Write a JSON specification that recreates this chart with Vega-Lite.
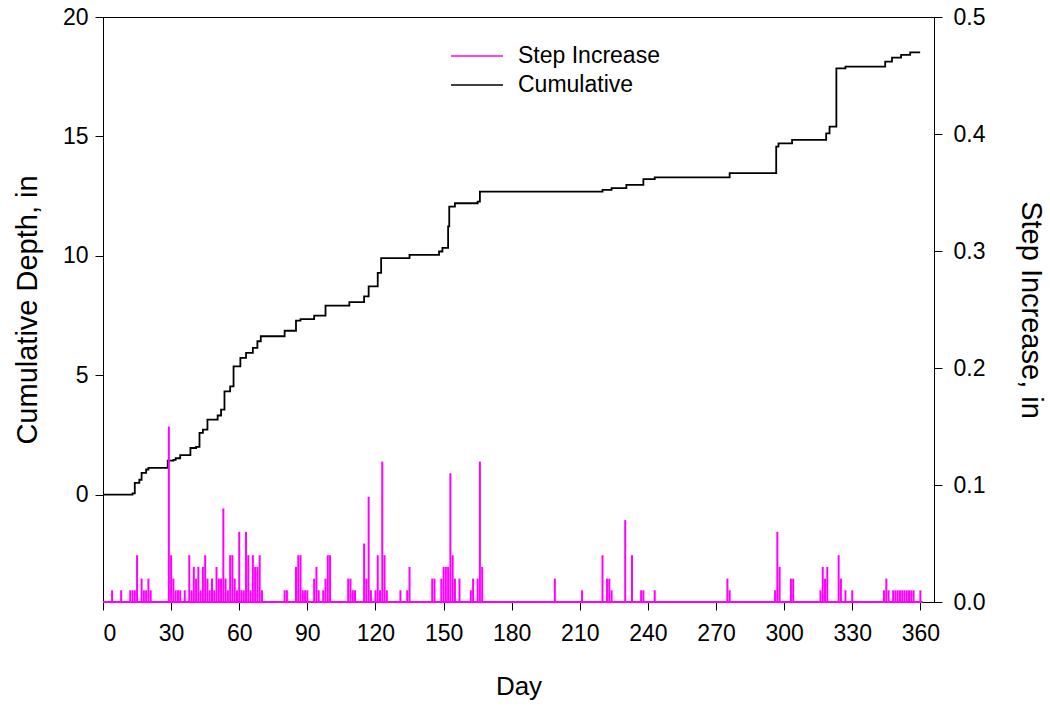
{
  "$schema": "https://vega.github.io/schema/vega-lite/v6.json",
  "width": 831,
  "height": 585,
  "autosize": {"type": "none"},
  "padding": {"left": 103, "top": 17, "right": 116, "bottom": 105},
  "background": "white",
  "config": {
    "font": "Liberation Sans",
    "view": {"stroke": "black", "strokeWidth": 1},
    "axis": {
      "domainColor": "black", "tickColor": "black", "labelColor": "black", "titleColor": "black",
      "labelFontSize": 23, "titleFontSize": 29, "titleFontWeight": "normal", "grid": false,
      "tickSize": 8, "labelFont": "Liberation Sans", "titleFont": "Liberation Sans",
      "domainWidth": 1, "tickWidth": 1
    },
    "legend": {"labelFont": "Liberation Sans"}
  },
  "datasets": {
    "cumulative": [
      {"day": 0, "depth": 0}, {"day": 13, "depth": 0.05}, {"day": 14, "depth": 0.49}, {"day": 16, "depth": 0.62},
      {"day": 17, "depth": 0.91}, {"day": 19, "depth": 1.05}, {"day": 20, "depth": 1.12}, {"day": 28.5, "depth": 1.42},
      {"day": 31, "depth": 1.45}, {"day": 32, "depth": 1.52}, {"day": 34, "depth": 1.65}, {"day": 38.5, "depth": 1.95},
      {"day": 41, "depth": 2.0}, {"day": 42.5, "depth": 2.58}, {"day": 44, "depth": 2.72}, {"day": 46, "depth": 3.14},
      {"day": 50.5, "depth": 3.31}, {"day": 52, "depth": 3.56}, {"day": 53.5, "depth": 4.32}, {"day": 56, "depth": 4.53},
      {"day": 57.5, "depth": 5.37}, {"day": 60.5, "depth": 5.72}, {"day": 63, "depth": 5.93}, {"day": 66, "depth": 6.14},
      {"day": 68, "depth": 6.42}, {"day": 69.5, "depth": 6.63}, {"day": 80, "depth": 6.86}, {"day": 85, "depth": 7.28},
      {"day": 87, "depth": 7.35}, {"day": 93, "depth": 7.49}, {"day": 98, "depth": 7.91}, {"day": 108.5, "depth": 8.06},
      {"day": 115, "depth": 8.3}, {"day": 117, "depth": 8.72}, {"day": 121, "depth": 9.28}, {"day": 122.5, "depth": 9.9},
      {"day": 135, "depth": 10.04}, {"day": 148, "depth": 10.18}, {"day": 149.5, "depth": 10.33}, {"day": 152, "depth": 11.23},
      {"day": 152.5, "depth": 12.06}, {"day": 155, "depth": 12.2}, {"day": 165, "depth": 12.27}, {"day": 166, "depth": 12.69},
      {"day": 220, "depth": 12.76}, {"day": 224, "depth": 12.83}, {"day": 230.5, "depth": 12.97}, {"day": 238, "depth": 13.21},
      {"day": 243, "depth": 13.28}, {"day": 276, "depth": 13.46}, {"day": 296.5, "depth": 14.57}, {"day": 297.5, "depth": 14.71},
      {"day": 303.5, "depth": 14.85}, {"day": 318.5, "depth": 15.13}, {"day": 320, "depth": 15.41}, {"day": 323, "depth": 17.85},
      {"day": 327, "depth": 17.92}, {"day": 344.5, "depth": 18.13}, {"day": 347.5, "depth": 18.3}, {"day": 351.5, "depth": 18.41},
      {"day": 355.5, "depth": 18.52}, {"day": 359.5, "depth": 18.55}
    ],
    "steps": [
      {"day": 4, "step": 0.01}, {"day": 8, "step": 0.01}, {"day": 12, "step": 0.01}, {"day": 13, "step": 0.01},
      {"day": 14, "step": 0.01}, {"day": 15, "step": 0.04}, {"day": 17, "step": 0.02}, {"day": 18, "step": 0.01},
      {"day": 19, "step": 0.01}, {"day": 20, "step": 0.02}, {"day": 21, "step": 0.01},
      {"day": 29, "step": 0.15}, {"day": 30, "step": 0.04}, {"day": 31, "step": 0.02}, {"day": 32, "step": 0.01},
      {"day": 33, "step": 0.01}, {"day": 34, "step": 0.01}, {"day": 36, "step": 0.01}, {"day": 38, "step": 0.04},
      {"day": 39, "step": 0.01}, {"day": 40, "step": 0.03}, {"day": 41, "step": 0.02}, {"day": 42, "step": 0.03},
      {"day": 43, "step": 0.01}, {"day": 44, "step": 0.03}, {"day": 45, "step": 0.04}, {"day": 46, "step": 0.02},
      {"day": 47, "step": 0.01}, {"day": 48, "step": 0.02}, {"day": 49, "step": 0.01}, {"day": 50, "step": 0.03},
      {"day": 51, "step": 0.02}, {"day": 52, "step": 0.02}, {"day": 53, "step": 0.08}, {"day": 54, "step": 0.02},
      {"day": 55, "step": 0.01}, {"day": 56, "step": 0.04}, {"day": 57, "step": 0.04}, {"day": 58, "step": 0.02},
      {"day": 59, "step": 0.01}, {"day": 60, "step": 0.06}, {"day": 61, "step": 0.01}, {"day": 62, "step": 0.01},
      {"day": 63, "step": 0.06}, {"day": 64, "step": 0.04}, {"day": 65, "step": 0.01}, {"day": 66, "step": 0.04},
      {"day": 67, "step": 0.03}, {"day": 68, "step": 0.03}, {"day": 69, "step": 0.04}, {"day": 70, "step": 0.01},
      {"day": 80, "step": 0.01}, {"day": 81, "step": 0.01}, {"day": 85, "step": 0.03}, {"day": 86, "step": 0.04},
      {"day": 87, "step": 0.04}, {"day": 88, "step": 0.01}, {"day": 89, "step": 0.01}, {"day": 90, "step": 0.01},
      {"day": 93, "step": 0.02}, {"day": 94, "step": 0.03}, {"day": 95, "step": 0.01}, {"day": 97, "step": 0.01},
      {"day": 98, "step": 0.02}, {"day": 99, "step": 0.04}, {"day": 100, "step": 0.04}, {"day": 108, "step": 0.02},
      {"day": 109, "step": 0.02}, {"day": 110, "step": 0.01}, {"day": 111, "step": 0.01}, {"day": 115, "step": 0.05},
      {"day": 116, "step": 0.02}, {"day": 117, "step": 0.09}, {"day": 118, "step": 0.01}, {"day": 120, "step": 0.01},
      {"day": 121, "step": 0.04}, {"day": 122, "step": 0.01}, {"day": 123, "step": 0.12}, {"day": 124, "step": 0.04},
      {"day": 125, "step": 0.01}, {"day": 131, "step": 0.01}, {"day": 134, "step": 0.01}, {"day": 135, "step": 0.03},
      {"day": 145, "step": 0.02}, {"day": 146, "step": 0.02}, {"day": 149, "step": 0.02}, {"day": 150, "step": 0.03},
      {"day": 151, "step": 0.03}, {"day": 152, "step": 0.03}, {"day": 153, "step": 0.11}, {"day": 154, "step": 0.04},
      {"day": 155, "step": 0.02}, {"day": 157, "step": 0.02}, {"day": 162, "step": 0.01}, {"day": 163, "step": 0.02},
      {"day": 165, "step": 0.02}, {"day": 166, "step": 0.12}, {"day": 167, "step": 0.03},
      {"day": 199, "step": 0.02}, {"day": 211, "step": 0.01}, {"day": 220, "step": 0.04}, {"day": 222, "step": 0.02},
      {"day": 223, "step": 0.02}, {"day": 224, "step": 0.01}, {"day": 230, "step": 0.07}, {"day": 233, "step": 0.04},
      {"day": 237, "step": 0.01}, {"day": 238, "step": 0.01}, {"day": 243, "step": 0.01}, {"day": 275, "step": 0.02},
      {"day": 276, "step": 0.01}, {"day": 296, "step": 0.01}, {"day": 297, "step": 0.06}, {"day": 298, "step": 0.03},
      {"day": 303, "step": 0.02}, {"day": 304, "step": 0.02}, {"day": 316, "step": 0.01}, {"day": 317, "step": 0.03},
      {"day": 318, "step": 0.02}, {"day": 319, "step": 0.03}, {"day": 324, "step": 0.04}, {"day": 325, "step": 0.02},
      {"day": 327, "step": 0.01}, {"day": 330, "step": 0.01}, {"day": 344, "step": 0.01}, {"day": 345, "step": 0.02},
      {"day": 346, "step": 0.01}, {"day": 348, "step": 0.01}, {"day": 349, "step": 0.01}, {"day": 350, "step": 0.01},
      {"day": 351, "step": 0.01}, {"day": 352, "step": 0.01}, {"day": 353, "step": 0.01}, {"day": 354, "step": 0.01},
      {"day": 355, "step": 0.01}, {"day": 356, "step": 0.01}, {"day": 357, "step": 0.01}, {"day": 360, "step": 0.01}
    ],
    "baseline": [{"start": 0, "end": 361}]
  },
  "layer": [
    {
      "data": {"name": "cumulative"},
      "mark": {"type": "line", "interpolate": "step-after", "strokeWidth": 1.8},
      "encoding": {
        "x": {
          "field": "day", "type": "quantitative", "title": "Day",
          "scale": {"domain": [0, 366], "nice": false, "zero": false},
          "axis": {"values": [0, 30, 60, 90, 120, 150, 180, 210, 240, 270, 300, 330, 360], "labelPadding": 12, "titlePadding": 28, "titleFontSize": 26}
        },
        "y": {
          "field": "depth", "type": "quantitative", "title": "Cumulative Depth, in",
          "scale": {"domain": [-4.5, 20], "nice": false, "zero": false},
          "axis": {"orient": "left", "values": [0, 5, 10, 15, 20], "labelPadding": 7, "titlePadding": 20}
        },
        "color": {
          "datum": "Cumulative", "type": "nominal",
          "scale": {"domain": ["Step Increase", "Cumulative"], "range": ["#ff00ff", "#000000"]},
          "legend": {
            "title": null, "orient": "none", "legendX": 360, "legendY": 25,
            "symbolType": "M-2,0H2", "symbolSize": 676, "symbolStrokeWidth": 1.5,
            "labelFontSize": 23, "labelOffset": 27, "labelColor": "black", "padding": 0, "rowPadding": 3
          }
        }
      }
    },
    {
      "layer": [
        {
          "data": {"name": "baseline"},
          "mark": {"type": "rule", "strokeWidth": 2},
          "encoding": {
            "x": {"field": "start", "type": "quantitative", "title": "Day"},
            "x2": {"field": "end"},
            "y": {"datum": 0, "type": "quantitative", "title": "Step Increase, in"},
            "color": {"datum": "Step Increase", "type": "nominal"}
          }
        },
        {
          "data": {"name": "steps"},
          "mark": {"type": "rule", "strokeWidth": 2},
          "encoding": {
            "x": {"field": "day", "type": "quantitative", "title": "Day"},
            "y": {
              "field": "step", "type": "quantitative", "title": "Step Increase, in",
              "scale": {"domain": [0, 0.5], "nice": false},
              "axis": {"orient": "right", "values": [0, 0.1, 0.2, 0.3, 0.4, 0.5], "format": ".1f", "labelPadding": 11, "titlePadding": 31}
            },
            "y2": {"datum": 0},
            "color": {"datum": "Step Increase", "type": "nominal"}
          }
        }
      ]
    }
  ],
  "resolve": {"scale": {"y": "independent"}}
}
